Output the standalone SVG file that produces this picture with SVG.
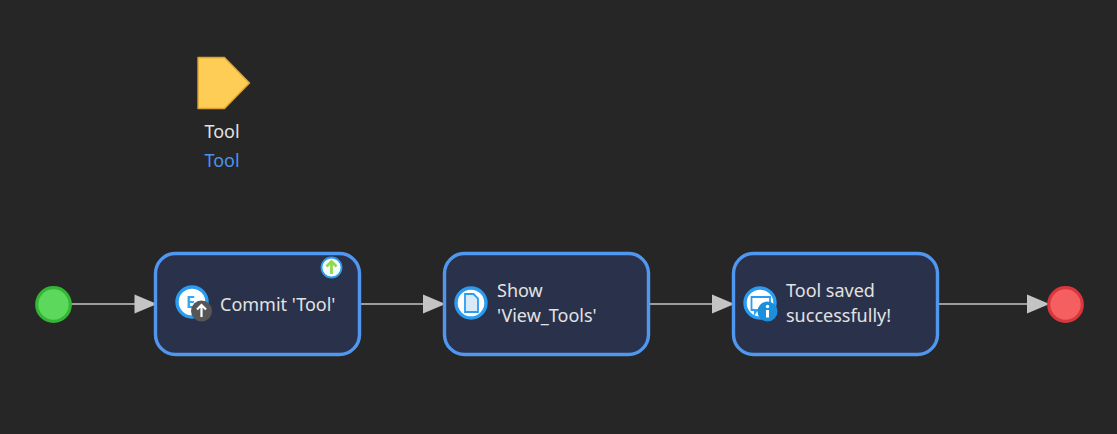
<svg xmlns="http://www.w3.org/2000/svg" width="1117" height="434" viewBox="0 0 1117 434">
<style>
text{font-family:"Noto Sans","Open Sans","Liberation Sans",sans-serif;font-size:18px;fill:#e2e2e2}
.box{fill:#2a324b;stroke:#5097f0;stroke-width:3.400}
.line{stroke:#c4c4c4;stroke-width:1.400;fill:none}
.head{fill:#c4c4c4;stroke:none}
.ring{fill:#fff;stroke:#2b9cf0;stroke-width:3.400}
.ic{fill:#d9ebfb;stroke:#2b9cf0;stroke-width:1.800}
</style>
<rect width="1117" height="434" fill="#262626"/>
<g id="connectors">
<path class="line" d="M71 304H136"/><path class="head" d="M134.500 294.500L157 304L134.500 313.500Z"/>
<path class="line" d="M360 304H424"/><path class="head" d="M423 294.500L445.500 304L423 313.500Z"/>
<path class="line" d="M649 304H713"/><path class="head" d="M712 294.500L734.500 304L712 313.500Z"/>
<path class="line" d="M938 304H1029"/><path class="head" d="M1027 294.500L1049.500 304L1027 313.500Z"/>
</g>
<g id="start"><circle cx="53.500" cy="304.500" r="16.800" fill="#5cd85c" stroke="#35b535" stroke-width="3.200"/></g>
<g id="end"><circle cx="1065.500" cy="304.500" r="16.800" fill="#f55f5f" stroke="#d9363e" stroke-width="3.200"/></g>
<g id="entity">
<path d="M198 57.500H224.500L249.500 83L224.500 108.500H198Z" fill="#fdcd55" stroke="#dca233" stroke-width="1.400" stroke-linejoin="round"/>
<text x="222" y="137.500" text-anchor="middle">Tool</text>
<text x="222" y="166.500" text-anchor="middle" style="fill:#4a94ee">Tool</text>
</g>
<g id="commit">
<rect class="box" x="155.500" y="253.500" width="204" height="101" rx="20"/>
<circle class="ring" cx="192" cy="302" r="15"/>
<text x="186" y="308" style="fill:#3aa3f2;font-size:16px;font-weight:700">E</text>
<circle cx="201.500" cy="311" r="10.500" fill="#565656"/>
<path d="M201.500 317V305.500M197 309.500L201.500 305L206 309.500" fill="none" stroke="#fff" stroke-width="2.200"/>
<circle cx="331.500" cy="267.500" r="10" fill="#f4fbff" stroke="#2b9cf0" stroke-width="1.800"/>
<path d="M331.500 274V261.500M326.500 266.500L331.500 261.500L336.500 266.500" fill="none" stroke="#93d84a" stroke-width="2.800"/>
<text x="220" y="310.500">Commit 'Tool'</text>
</g>
<g id="show">
<rect class="box" x="444.500" y="253.500" width="204" height="101" rx="20"/>
<circle class="ring" cx="471" cy="303" r="15"/>
<path class="ic" d="M465 294H473.500L478 298.500V312H465Z"/>
<text x="497" y="296.500">Show</text>
<text x="497" y="321.500">'View_Tools'</text>
</g>
<g id="message">
<rect class="box" x="733.500" y="253.500" width="204" height="101" rx="20"/>
<circle class="ring" cx="760" cy="303" r="15"/>
<path d="M751.500 297H770V310H757L755 313V310H751.500Z" fill="#fff" stroke="#2b9cf0" stroke-width="1.800"/>
<circle cx="767.500" cy="311.500" r="10" fill="#1a8fdc"/>
<rect x="766" y="310" width="3" height="7.500" fill="#fff"/>
<circle cx="767.500" cy="306.500" r="1.700" fill="#fff"/>
<text x="786" y="296.500">Tool saved</text>
<text x="786" y="321.500">successfully!</text>
</g>
</svg>
